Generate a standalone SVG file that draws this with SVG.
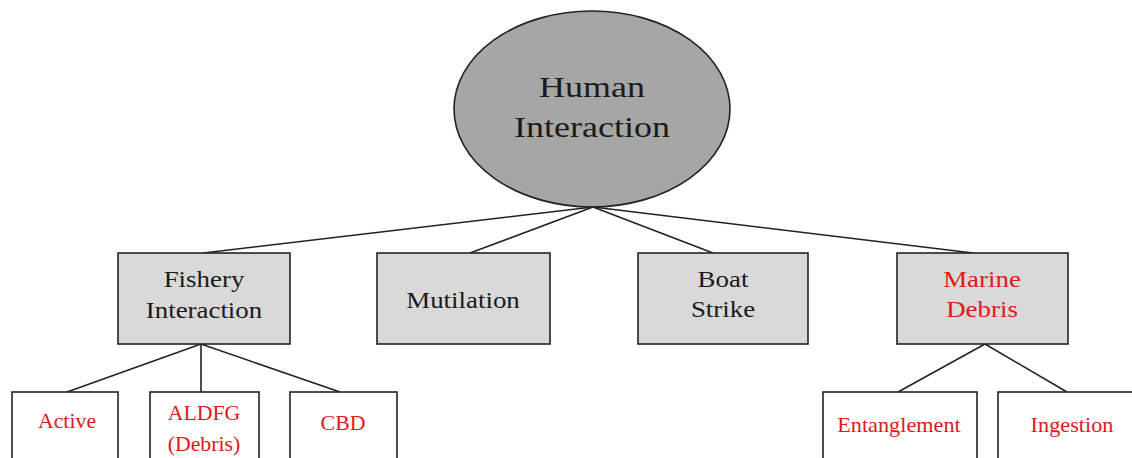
<svg xmlns="http://www.w3.org/2000/svg" width="1132" height="458" viewBox="0 0 1132 458">
<style>
text{text-anchor:middle;font-family:'Liberation Serif','Times New Roman',serif}
.top{fill:#a6a6a6;stroke:#222;stroke-width:1.6}
.mid{fill:#d9d9d9;stroke:#222;stroke-width:1.6}
.leaf{fill:#fff;stroke:#222;stroke-width:1.6}
.dark{fill:#1a1a1a}
.red{fill:#e01818}
.conn line{stroke:#222;stroke-width:1.6}
</style>
<rect width="1132" height="458" fill="#fff"/>
<g class="conn">
<line x1="593" y1="207" x2="203" y2="253"/>
<line x1="593" y1="207" x2="470" y2="253"/>
<line x1="593" y1="207" x2="713" y2="253"/>
<line x1="593" y1="207" x2="973" y2="253"/>
<line x1="201" y1="344" x2="67" y2="392"/>
<line x1="201" y1="344" x2="201" y2="392"/>
<line x1="201" y1="344" x2="340" y2="392"/>
<line x1="985" y1="344" x2="898" y2="392"/>
<line x1="985" y1="344" x2="1067" y2="392"/>
</g>
<g id="human">
<ellipse class="top" cx="592" cy="109" rx="138" ry="98"/>
<text class="dark" font-size="30" transform="translate(592,97) scale(1.2,1)">Human</text>
<text class="dark" font-size="30" transform="translate(592,137) scale(1.2,1)">Interaction</text>
</g>
<g id="fishery">
<rect class="mid" x="118" y="253" width="172" height="91"/>
<text class="dark" font-size="23" transform="translate(204,287) scale(1.17,1)">Fishery</text>
<text class="dark" font-size="23" transform="translate(204,318) scale(1.17,1)">Interaction</text>
</g>
<g id="mutilation">
<rect class="mid" x="377" y="253" width="173" height="91"/>
<text class="dark" font-size="23" transform="translate(463,308) scale(1.17,1)">Mutilation</text>
</g>
<g id="boat">
<rect class="mid" x="638" y="253" width="170" height="91"/>
<text class="dark" font-size="23" transform="translate(723,287) scale(1.17,1)">Boat</text>
<text class="dark" font-size="23" transform="translate(723,317) scale(1.17,1)">Strike</text>
</g>
<g id="marine">
<rect class="mid" x="897" y="253" width="171" height="91"/>
<text class="red" font-size="23" transform="translate(982,287) scale(1.17,1)">Marine</text>
<text class="red" font-size="23" transform="translate(982,317) scale(1.17,1)">Debris</text>
</g>
<g id="active">
<rect class="leaf" x="12" y="392" width="106" height="80"/>
<text class="red" font-size="21" transform="translate(67,428) scale(1.04,1)">Active</text>
</g>
<g id="aldfg">
<rect class="leaf" x="150" y="392" width="109" height="80"/>
<text class="red" font-size="21" transform="translate(204,420) scale(1.04,1)">ALDFG</text>
<text class="red" font-size="21" transform="translate(204,451) scale(1.04,1)">(Debris)</text>
</g>
<g id="cbd">
<rect class="leaf" x="290" y="392" width="107" height="80"/>
<text class="red" font-size="21" transform="translate(343,430) scale(1.04,1)">CBD</text>
</g>
<g id="entanglement">
<rect class="leaf" x="823" y="392" width="154" height="80"/>
<text class="red" font-size="21" transform="translate(899,432) scale(1.06,1)">Entanglement</text>
</g>
<g id="ingestion">
<rect class="leaf" x="998" y="392" width="150" height="80"/>
<text class="red" font-size="21" transform="translate(1072,432) scale(1.06,1)">Ingestion</text>
</g>
</svg>
